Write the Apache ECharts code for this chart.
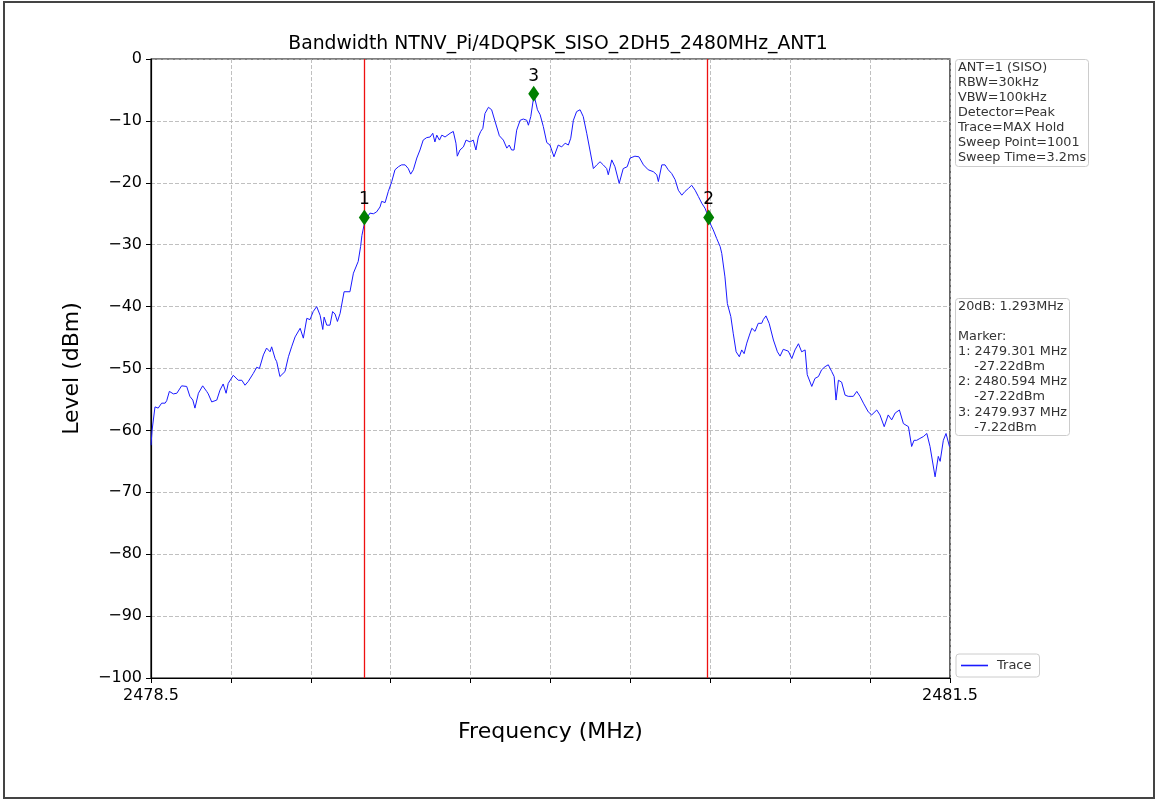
<!DOCTYPE html>
<html>
<head>
<meta charset="utf-8">
<script src="https://cdn.jsdelivr.net/npm/echarts@6/dist/echarts.min.js"></script>
<style>
  html, body { margin: 0; padding: 0; background: #fff; }
  #chart-container { width: 1156px; height: 800px; }
</style>
</head>
<body>
<div id="chart-container"></div>
<script>
// trace (MHz / dBm)
const freq = [
  2478.500, 2478.504, 2478.515, 2478.521, 2478.527, 2478.540, 2478.553, 2478.559, 2478.569, 2478.584,
  2478.597, 2478.615, 2478.634, 2478.646, 2478.657, 2478.665, 2478.678, 2478.694, 2478.709, 2478.715,
  2478.728, 2478.747, 2478.759, 2478.771, 2478.782, 2478.790, 2478.809, 2478.828, 2478.841, 2478.853,
  2478.865, 2478.884, 2478.897, 2478.907, 2478.922, 2478.934, 2478.947, 2478.953, 2478.966, 2478.972,
  2478.984, 2478.991, 2479.003, 2479.016, 2479.028, 2479.041, 2479.047, 2479.060, 2479.072, 2479.085,
  2479.097, 2479.109, 2479.122, 2479.135, 2479.145, 2479.150, 2479.160, 2479.172, 2479.182, 2479.191,
  2479.200, 2479.210, 2479.225, 2479.247, 2479.260, 2479.278, 2479.287, 2479.292, 2479.300, 2479.310,
  2479.322, 2479.335, 2479.347, 2479.360, 2479.366, 2479.379, 2479.391, 2479.397, 2479.404, 2479.416,
  2479.429, 2479.441, 2479.454, 2479.466, 2479.475, 2479.485, 2479.498, 2479.510, 2479.522, 2479.535,
  2479.548, 2479.558, 2479.566, 2479.573, 2479.583, 2479.592, 2479.604, 2479.623, 2479.635, 2479.645,
  2479.650, 2479.660, 2479.673, 2479.683, 2479.698, 2479.710, 2479.720, 2479.729, 2479.738, 2479.746,
  2479.754, 2479.767, 2479.779, 2479.792, 2479.808, 2479.823, 2479.836, 2479.845, 2479.854, 2479.863,
  2479.873, 2479.886, 2479.898, 2479.911, 2479.917, 2479.926, 2479.938, 2479.951, 2479.961, 2479.973,
  2479.986, 2479.998, 2480.013, 2480.029, 2480.042, 2480.055, 2480.067, 2480.076, 2480.086, 2480.098,
  2480.111, 2480.123, 2480.136, 2480.148, 2480.161, 2480.174, 2480.186, 2480.198, 2480.211, 2480.217,
  2480.230, 2480.242, 2480.258, 2480.273, 2480.288, 2480.299, 2480.317, 2480.332, 2480.349, 2480.367,
  2480.386, 2480.399, 2480.405, 2480.418, 2480.430, 2480.442, 2480.455, 2480.468, 2480.480, 2480.493,
  2480.505, 2480.518, 2480.530, 2480.543, 2480.555, 2480.568, 2480.580, 2480.593, 2480.602, 2480.611,
  2480.624, 2480.637, 2480.643, 2480.655, 2480.664, 2480.677, 2480.686, 2480.697, 2480.709, 2480.718,
  2480.727, 2480.737, 2480.747, 2480.756, 2480.768, 2480.780, 2480.793, 2480.799, 2480.809, 2480.821,
  2480.837, 2480.852, 2480.862, 2480.874, 2480.893, 2480.906, 2480.918, 2480.931, 2480.943, 2480.956,
  2480.964, 2480.981, 2480.993, 2481.006, 2481.018, 2481.031, 2481.043, 2481.056, 2481.065, 2481.072,
  2481.081, 2481.093, 2481.106, 2481.118, 2481.137, 2481.150, 2481.162, 2481.175, 2481.193, 2481.206,
  2481.225, 2481.237, 2481.253, 2481.268, 2481.281, 2481.294, 2481.310, 2481.325, 2481.344, 2481.356,
  2481.365, 2481.375, 2481.387, 2481.400, 2481.413, 2481.425, 2481.444, 2481.456, 2481.463, 2481.475,
  2481.485, 2481.498, 2481.500
];
const level = [
  -62.4, -60.0, -56.2, -56.0, -56.4, -55.6, -55.6, -55.2, -53.7, -54.1,
  -54.0, -52.8, -52.9, -54.5, -55.1, -56.4, -54.0, -52.8, -53.7, -54.1,
  -55.4, -55.1, -53.5, -52.5, -54.0, -52.4, -51.1, -51.9, -51.9, -52.7,
  -52.1, -50.8, -49.8, -50.0, -47.8, -46.7, -47.3, -46.5, -48.4, -48.9,
  -51.3, -51.4, -50.5, -48.1, -46.5, -44.9, -45.1, -43.5, -45.1, -41.9,
  -42.1, -40.8, -40.0, -41.4, -43.7, -41.7, -43.0, -43.0, -40.8, -41.2,
  -42.4, -41.1, -37.6, -37.6, -34.6, -32.7, -30.3, -28.5, -26.8, -25.7,
  -24.9, -25.0, -24.7, -23.9, -23.0, -23.2, -21.4, -21.7, -19.8, -17.9,
  -17.4, -17.1, -17.1, -17.7, -18.6, -17.9, -16.0, -14.7, -13.1, -12.7,
  -12.6, -12.0, -13.4, -12.3, -13.1, -12.3, -12.6, -12.0, -11.7, -13.6,
  -15.7, -14.7, -14.2, -13.1, -13.4, -13.1, -14.7, -12.6, -11.7, -11.2,
  -8.8, -7.8, -8.2, -10.1, -12.4, -13.1, -14.4, -13.9, -14.7, -14.7,
  -11.5, -9.9, -9.7, -9.9, -10.7, -9.3, -5.8, -8.2, -9.0, -10.9,
  -13.5, -13.9, -15.8, -13.9, -14.2, -13.6, -13.9, -12.8, -9.9, -8.5,
  -8.2, -9.3, -12.0, -14.7, -17.7, -17.1, -16.6, -17.1, -17.7, -18.7,
  -16.3, -17.4, -20.1, -17.7, -17.4, -16.0, -15.7, -15.8, -17.1, -17.9,
  -18.2, -18.7, -19.8, -17.1, -17.1, -17.9, -18.5, -19.5, -21.2, -22.0,
  -21.4, -20.9, -20.4, -21.2, -22.2, -23.3, -24.1, -25.5, -26.8, -27.6,
  -29.0, -30.3, -31.4, -35.2, -39.5, -41.6, -44.3, -47.3, -48.1, -47.0,
  -47.6, -45.9, -44.6, -43.5, -44.0, -42.7, -42.7, -42.1, -41.5, -42.7,
  -45.4, -47.3, -48.0, -46.9, -47.2, -48.4, -47.0, -46.0, -47.3, -47.0,
  -51.0, -52.9, -51.6, -51.3, -50.2, -49.7, -49.4, -50.5, -51.3, -55.1,
  -51.9, -52.2, -54.3, -54.5, -54.5, -53.7, -54.5, -55.6, -57.0, -57.5,
  -56.7, -57.5, -59.4, -57.5, -58.3, -57.2, -56.7, -58.9, -59.4, -62.6,
  -61.6, -61.6, -61.3, -61.0, -60.5, -62.6, -67.5, -64.2, -65.0, -61.6,
  -60.5, -62.6, -62.5
];

// markers
const markerNames = ['1', '2', '3'];
const markerFreq = [2479.301, 2480.594, 2479.937];
const markerLevel = [-25.6, -25.6, -5.6];
const bandEdges = [2479.301, 2480.594];

// axes
const freqMin = 2478.5;
const freqMax = 2481.5;
const gridDivisions = 10;
const xTickLabels = ['2478.5', '2481.5'];
const levelMin = -100;
const levelMax = 0;
const levelStep = 10;

const settingsText = [
  'ANT=1 (SISO)',
  'RBW=30kHz',
  'VBW=100kHz',
  'Detector=Peak',
  'Trace=MAX Hold',
  'Sweep Point=1001',
  'Sweep Time=3.2ms'
];
const markerText = [
  '20dB: 1.293MHz',
  '',
  'Marker:',
  '1: 2479.301 MHz',
  '    -27.22dBm',
  '2: 2480.594 MHz',
  '    -27.22dBm',
  '3: 2479.937 MHz',
  '    -7.22dBm'
];

const FONT = 'DejaVu Sans';
const minus = v => (v < 0 ? '\u2212' + (-v) : String(v));

var dom = document.getElementById('chart-container');
var myChart = echarts.init(dom, null, { renderer: 'canvas' });

const infoBox = (lines, left, top) => ({
  text: lines.join('\n'),
  left: left,
  top: top,
  padding: [1, 3, 1, 3],
  backgroundColor: 'rgba(255,255,255,0.8)',
  borderColor: '#cccccc',
  borderWidth: 1,
  borderRadius: 3,
  textStyle: {
    fontFamily: FONT,
    fontSize: 12.8,
    fontWeight: 'normal',
    lineHeight: 15.1,
    color: '#333333'
  }
});

var option = {
  animation: false,
  backgroundColor: '#ffffff',
  title: [
    {
      text: 'Bandwidth NTNV_Pi/4DQPSK_SISO_2DH5_2480MHz_ANT1',
      left: 553,
      top: 30,
      textAlign: 'center',
      textStyle: { fontFamily: FONT, fontSize: 18.8, fontWeight: 'normal', color: '#000' }
    },
    infoBox(settingsText, 955, 59),
    infoBox(markerText, 955, 298)
  ],
  graphic: [
    {
      type: 'rect',
      shape: { x: 4, y: 2, width: 1150, height: 796 },
      style: { fill: 'none', stroke: '#444', lineWidth: 2 },
      silent: true
    }
  ],
  legend: {
    data: [{ name: 'Trace', icon: 'rect' }],
    left: 956,
    top: 654,
    padding: [5, 8, 5, 5],
    itemWidth: 27,
    itemHeight: 1.6,
    itemGap: 10,
    borderColor: '#cccccc',
    borderWidth: 1,
    borderRadius: 3,
    textStyle: { fontFamily: FONT, fontSize: 13, color: '#333', padding: [0, 0, 0, 4] }
  },
  grid: {
    left: 151,
    right: 206,
    top: 59,
    bottom: 122,
    show: true,
    borderColor: '#000',
    borderWidth: 1.2,
    backgroundColor: 'transparent'
  },
  xAxis: [
    {
      // data axis (frequency)
      type: 'value',
      min: freqMin,
      max: freqMax,
      show: false
    },
    {
      // grid divisions, same span as the data axis
      type: 'value',
      min: 0,
      max: gridDivisions,
      interval: 1,
      position: 'bottom',
      name: 'Frequency (MHz)',
      nameLocation: 'middle',
      nameGap: 43,
      nameTextStyle: { fontFamily: FONT, fontSize: 22, color: '#000' },
      axisLine: { show: true, lineStyle: { color: '#000', width: 1.2 } },
      axisTick: { show: true, inside: false, length: 5, lineStyle: { color: '#000', width: 1 } },
      axisLabel: {
        fontFamily: FONT,
        fontSize: 16,
        color: '#000',
        margin: 10,
        showMinLabel: true,
        showMaxLabel: true,
        formatter: v => (v === 0 ? xTickLabels[0] : v === gridDivisions ? xTickLabels[1] : '')
      },
      splitLine: { show: true, lineStyle: { color: '#b0b0b0', type: [4, 2], width: 0.8 } }
    }
  ],
  yAxis: {
    type: 'value',
    min: levelMin,
    max: levelMax,
    interval: levelStep,
    name: 'Level (dBm)',
    nameLocation: 'middle',
    nameGap: 68,
    nameTextStyle: { fontFamily: FONT, fontSize: 22, color: '#000' },
    axisLine: { show: true, lineStyle: { color: '#000', width: 1.2 } },
    axisTick: { show: true, inside: false, length: 5, lineStyle: { color: '#000', width: 1 } },
    axisLabel: { fontFamily: FONT, fontSize: 16, color: '#000', margin: 9, formatter: minus },
    splitLine: { show: true, lineStyle: { color: '#b0b0b0', type: [4, 2], width: 0.8 } }
  },
  series: [
    {
      name: 'Trace',
      type: 'line',
      xAxisIndex: 0,
      data: freq.map((f, i) => [f, level[i]]),
      symbol: 'none',
      smooth: false,
      lineStyle: { color: '#1a1aff', width: 1 },
      itemStyle: { color: '#1a1aff' },
      z: 3,
      markLine: {
        silent: true,
        symbol: ['none', 'none'],
        label: { show: false },
        lineStyle: { color: '#ee1111', type: 'solid', width: 1.3, opacity: 1 },
        emphasis: { disabled: true },
        data: bandEdges.map(f => ({ xAxis: f }))
      }
    },
    {
      name: 'Markers',
      type: 'scatter',
      xAxisIndex: 0,
      data: markerFreq.map((f, i) => ({ value: [f, markerLevel[i]], name: markerNames[i] })),
      symbol: 'diamond',
      symbolSize: [11, 16],
      itemStyle: { color: '#008000', opacity: 1 },
      z: 5,
      label: {
        show: true,
        position: 'top',
        distance: 1,
        formatter: p => p.name,
        fontFamily: FONT,
        fontSize: 17,
        color: '#000'
      }
    }
  ]
};

myChart.setOption(option);
window.addEventListener('resize', myChart.resize);
</script>
</body>
</html>
